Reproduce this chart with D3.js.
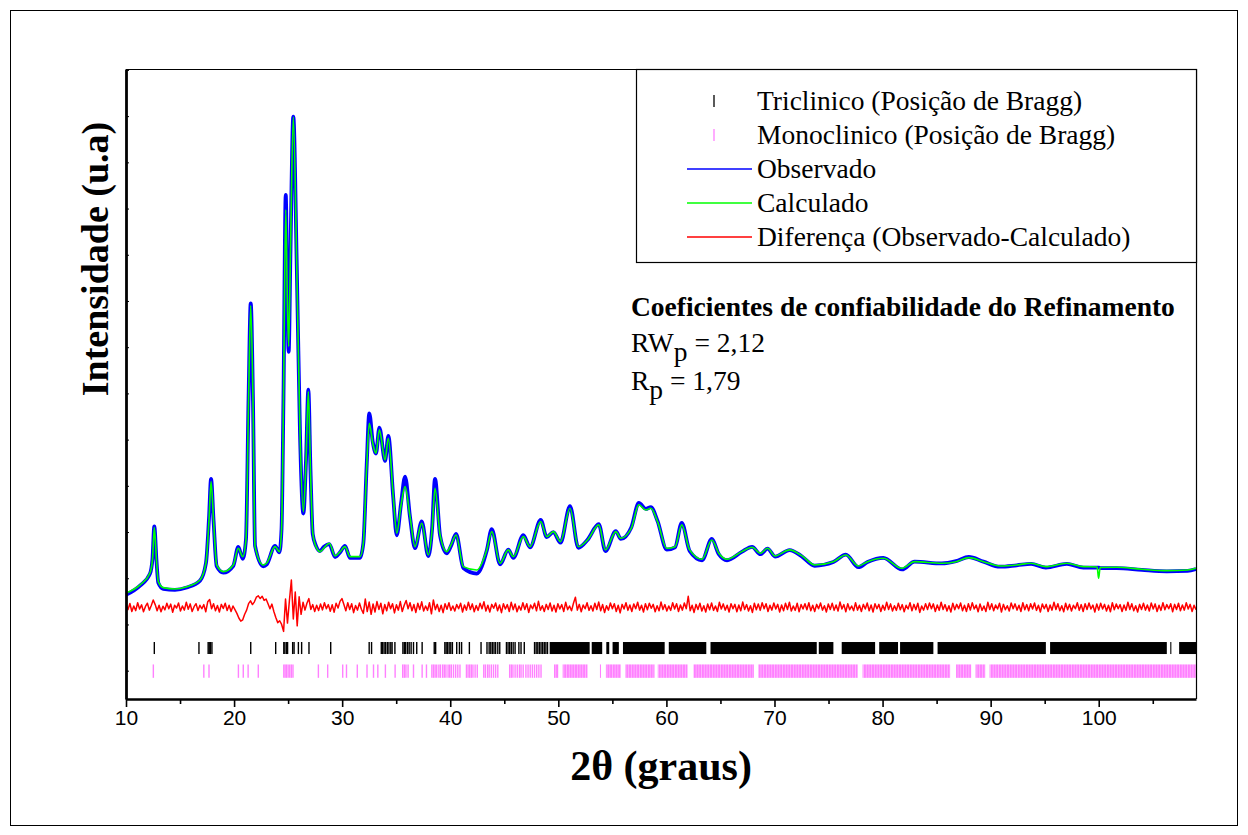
<!DOCTYPE html>
<html><head><meta charset="utf-8">
<script src="https://cdn.jsdelivr.net/npm/d3@7"></script>
<style>body{margin:0;background:#fff}svg{display:block}</style>
</head><body>
<svg id="chart" width="1248" height="835"></svg>
<script>
// ---------------- DATA ----------------
const twoTheta = [10.00,11.30,12.22,12.45,12.62,12.82,12.99,13.45,14.53,15.62,16.85,17.40,17.68,17.87,18.10,18.39,19.00,19.93,20.39,20.80,
21.10,21.34,21.54,21.75,21.94,22.70,23.02,23.79,24.19,24.39,24.57,24.78,24.93,25.05,25.22,25.48,25.80,26.10,26.41,26.66,
26.87,27.07,27.28,27.58,27.95,28.32,28.81,29.34,29.80,30.26,30.73,31.65,31.96,32.27,32.51,32.83,33.13,33.44,33.97,34.27,
34.73,35.05,35.45,35.82,36.28,36.74,37.36,37.97,38.32,38.59,39.06,39.67,40.07,40.54,41.21,42.45,43.38,43.84,44.61,45.37,
45.84,46.76,47.38,48.37,48.93,49.54,50.20,51.08,51.85,52.70,53.74,54.36,55.32,55.78,56.75,57.45,58.10,58.56,59.18,60.03,
60.80,61.42,62.15,63.30,64.20,64.85,65.61,66.97,67.93,68.70,69.36,70.05,71.40,72.55,73.72,75.45,76.60,77.76,78.61,80.07,
81.80,82.97,85.48,86.80,87.98,89.33,90.87,92.42,93.74,95.11,97.05,98.58,99.85,99.99,100.13,101.67,103.99,106.30,108.22,109.00];

const calculated = [1680,1855,2115,2396,3095,2396,1926,1797,1768,1818,1963,2331,3262,4091,3262,2288,2143,2288,2649,2468,
2829,5859,7900,5859,2684,2288,2331,2684,2576,3045,5859,9972,8024,7013,9106,11978,8745,5145,3442,4561,
6039,4344,2981,2684,2576,2656,2758,2483,2569,2684,2468,2468,2758,4416,5355,4922,4706,5210,4561,5030,
3766,2974,3587,3983,3333,2684,3190,2504,3045,3948,2937,2576,2721,2937,2251,2180,2613,3009,2325,2613,
2468,2900,2684,3225,2900,3009,2792,3515,2684,2829,3154,2613,3009,2866,3082,3587,3478,3515,3225,2649,
2684,3154,2613,2411,2829,2541,2411,2576,2671,2541,2649,2483,2613,2483,2288,2359,2504,2266,2359,2433,
2216,2359,2325,2359,2446,2359,2266,2288,2325,2251,2325,2251,2245,2000,2234,2238,2195,2165,2180,2216];

const observed = [1640,1840,2100,2420,3120,2380,1900,1770,1750,1800,1950,2330,3300,4150,3250,2260,2120,2270,2680,2420,
2840,5900,7950,5830,2700,2260,2300,2700,2560,3060,5900,10297,8050,6900,9120,11990,8760,5120,3400,4580,
6080,4330,2950,2700,2590,2680,2740,2460,2560,2700,2440,2440,2760,4450,5570,4950,4700,5260,4540,5080,
3740,2930,3620,4200,3320,2650,3230,2480,3070,4150,2920,2540,2700,2960,2220,2100,2600,3060,2300,2620,
2440,2930,2670,3260,2890,3000,2770,3560,2660,2830,3170,2590,3020,2850,3100,3630,3500,3540,3240,2620,
2670,3200,2590,2390,2850,2520,2390,2570,2680,2520,2640,2470,2610,2470,2270,2350,2510,2240,2350,2440,
2190,2360,2320,2370,2460,2360,2250,2280,2310,2230,2310,2230,2230,2230,2220,2220,2180,2150,2160,2200];

// difference (Observado - Calculado), sampled every 0.18 deg from 10 deg
const diffStart = 10, diffStep = 0.18, diffOffset = 1370;
const difference = [
60,-50,85,-90,30,-70,100,-35,55,-95,20,90,-60,40,160,60,-75,45,-95,25,
-55,90,-30,70,-105,45,-15,95,-80,30,-60,110,-40,75,-90,15,80,-70,45,-30,
60,-95,120,170,-30,80,-75,40,-100,65,-25,90,-70,45,-90,30,-50,-130,-230,-300,
-270,-150,-60,80,140,60,120,220,250,190,240,150,180,80,-30,70,-90,-220,-330,-290,
-370,-520,180,-340,150,590,-250,330,-400,230,-150,110,-60,90,190,-45,60,-90,45,-70,
75,-55,100,-30,60,-85,55,-105,90,-15,130,190,60,-75,100,-45,80,-115,40,-60,
95,-40,-130,180,-90,115,-150,75,-100,125,-45,90,-140,60,-75,110,-30,80,-120,55,
-60,125,-90,45,150,-30,100,-75,60,-110,90,-45,120,-80,30,-65,100,-140,160,-50,
65,-90,45,-115,80,-40,100,-65,30,-80,60,-30,90,-100,50,-60,110,-45,75,-95,
40,-65,90,-30,120,-80,45,-100,65,-20,95,-75,50,-115,80,-35,60,-90,110,-50,
75,-95,30,-60,100,-45,80,-110,50,-30,90,-75,130,-60,35,-90,65,-45,95,-80,
45,-100,80,-35,60,-90,110,-50,30,-75,90,220,-60,65,-95,50,-30,100,-65,35,
-80,90,-45,115,-75,60,-110,35,-60,95,-30,80,-90,45,-120,65,-35,100,-65,50,
-90,75,-30,110,-60,45,-100,80,-50,90,-20,65,-95,35,-75,115,-45,60,-80,30,
-65,100,-35,80,-90,50,-60,95,-30,240,-75,45,-110,65,-45,90,-80,35,-100,75,
-50,95,-65,30,-90,110,-35,75,-60,45,-100,80,-30,65,-95,50,-75,115,-45,60,
-80,35,-110,90,-50,75,-65,100,-30,80,-90,45,-60,95,-35,65,-100,50,-75,90,
-45,110,-80,30,-65,90,-95,60,-35,80,-50,100,-75,45,-90,65,-30,95,-60,35,
-100,75,-45,90,-65,50,-80,115,-35,60,-95,80,-50,30,-75,100,-60,45,-90,65,
-35,95,-75,50,-100,80,-30,65,-90,45,-60,110,-45,75,-80,35,-65,90,-50,60,
-95,45,-35,100,-75,65,-50,90,-110,30,-60,80,-45,95,-30,75,-90,50,-65,110,
-45,60,-80,35,-100,90,-50,65,-30,95,-75,45,-90,80,-60,100,-35,50,-95,75,
-65,30,-90,110,-45,80,-75,50,-35,90,-100,65,-50,35,-80,95,-30,75,-60,45,
-90,100,-50,60,-75,80,-35,95,-65,45,-100,75,-30,65,-90,50,-60,110,-45,80,
-75,35,-95,90,-50,65,-80,45,-30,100,-65,60,-90,80,-45,95,-35,50,-100,75,
-60,90,-35,65,-80,45,-95,100,-50,75,-30,60,-90,50,-65,110,-45,80,-75,35,
-100,65,-45,90,-60,50,-80,95,-35,75,-90,45,-65,100,-50,60,-30,80,-95,65,
-45,90,-75,50,-60,100,-35,65,-90,45,-50];

// Bragg positions (2theta)
const triclinicTicks = [12.62,16.75,17.6,17.7,17.8,17.95,21.54,23.85,24.6,24.7,24.85,24.95,25.42,25.55,25.95,26.25,26.93,28.94,32.5,32.72,
33.62,33.74,33.88,34.02,34.18,34.33,34.5,34.62,34.88,35.62,35.75,35.88,36.05,36.2,36.38,36.6,36.9,37.4,
38.52,38.65,39.5,39.62,39.75,39.9,40.05,40.2,40.6,40.85,41.05,41.77,42.85,43.4,43.6,43.75,43.9,44.05,44.2,44.4,44.58,
45.2,45.35,45.5,45.65,45.82,46.0,46.35,46.55,46.85,47.8,47.95,48.1,48.25,48.4,48.55,48.7,48.85,49.0];
const triclinicRuns = [[49.2,52.9],[53.09,54.06],[54.44,54.71],[55.02,55.6],[55.98,59.84],[60.22,63.69],[64.08,73.91],[74.1,75.45],
[76.22,79.31],[79.69,81.43],[81.62,84.7],[85.09,95.11],[95.5,106.3],[106.62,106.72],[107.44,109]];
const monoclinicTicks = [12.53,17.2,17.68,20.4,20.85,21.3,22.24,24.6,24.72,24.85,25.0,25.15,25.3,25.45,27.8,28.66,30.05,30.4,31.4,32.3,32.9,33.3,34.0,34.9,
35.6,35.75,35.9,36.1,36.6,37.4,37.8,38.3,38.45,38.6,38.75,38.95,39.1,39.3,39.45,39.6,39.8,39.95,40.1,40.3,40.5,40.7,40.9,
41.5,41.65,41.8,41.95,42.1,42.3,42.5,43.1,43.25,43.45,43.6,43.8,44.0,44.2,44.4,
45.5,45.65,45.8,46.0,46.2,46.4,46.55,46.75,47.0,47.2,47.4,47.6,47.8,48.0,48.2,48.4];
const monoclinicRuns = [[49.6,50.0],[50.4,52.7],[53.85,53.95],[54.4,55.8],[56.2,58.9],[59.2,61.96],[62.5,68.1],[68.5,77.7],
[78.15,86.25],[86.8,88.2],[88.6,89.5],[89.9,109]];

const xMajorTicks = [10,20,30,40,50,60,70,80,90,100];
const xMinorTicks = [15,25,35,45,55,65,75,85,95,105];
const yTickValues = [0,1000,2000,3000,4000,5000,6000,7000,8000,9000,10000,11000,12000,13000];
const legendLabels = ["Triclinico (Posição de Bragg)","Monoclinico (Posição de Bragg)","Observado","Calculado","Diferença (Observado-Calculado)"];
const xTitle = "2θ (graus)";
const yTitle = "Intensidade (u.a)";
const refinementTitle = "Coeficientes de confiabilidade do Refinamento";
const rwpValue = "2,12", rpValue = "1,79";

// ---------------- LAYOUT ----------------
const P = {left:126, right:1196, top:69, bottom:699};
const C = {blue:"#0000ff", green:"#00ff00", red:"#ff0000", magenta:"#ff80ff", black:"#000"};
const serif = "'Liberation Serif','Times New Roman',serif";
const sans = "'Liberation Sans',Arial,sans-serif";

const x = d3.scaleLinear().domain([10,109]).range([P.left,P.right]);
const y = d3.scaleLinear().domain([-613,13020]).range([P.bottom,P.top]);

const svg = d3.select("#chart");
svg.append("rect").attr("width",1248).attr("height",835).attr("fill","#fff");
svg.append("rect").attr("x",10.5).attr("y",10.5).attr("width",1227).attr("height",815)
  .attr("fill","none").attr("stroke","#000").attr("stroke-width",1);

const defs = svg.append("defs");
defs.append("clipPath").attr("id","clip").append("rect")
  .attr("x",P.left).attr("y",P.top).attr("width",P.right-P.left).attr("height",P.bottom-P.top);
const pat = defs.append("pattern").attr("id","magStripe").attr("patternUnits","userSpaceOnUse")
  .attr("width",2.7).attr("height",20);
pat.append("rect").attr("width",2.7).attr("height",20).attr("fill","#ffd0ff");
pat.append("rect").attr("width",2.1).attr("height",20).attr("fill",C.magenta);
const g = svg.append("g").attr("clip-path","url(#clip)");

// Bragg rows (in intensity units)
const rowTri = [360,620], rowMono = [-155,135];
function braggRow(ticks, runs, row, color, fill, cls){
  g.selectAll("line."+cls).data(ticks).join("line").attr("class",cls)
    .attr("x1",d=>x(d)).attr("x2",d=>x(d)).attr("y1",y(row[1])).attr("y2",y(row[0]))
    .attr("stroke",color).attr("stroke-width",1.4);
  g.selectAll("rect."+cls).data(runs).join("rect").attr("class",cls)
    .attr("x",d=>x(d[0])).attr("width",d=>Math.max(1,x(d[1])-x(d[0])))
    .attr("y",y(row[1])).attr("height",y(row[0])-y(row[1])).attr("fill",fill);
}
braggRow(triclinicTicks, triclinicRuns, rowTri, C.black, C.black, "tri");
braggRow(monoclinicTicks, monoclinicRuns, rowMono, C.magenta, "url(#magStripe)", "mono");

const line = d3.line().x(d=>x(d[0])).y(d=>y(d[1])).curve(d3.curveMonotoneX);
const obsData = twoTheta.map((t,i)=>[t,observed[i]]);
const calcData = twoTheta.map((t,i)=>[t,calculated[i]]);
const diffData = difference.map((v,i)=>[diffStart+i*diffStep, diffOffset+v]);

g.append("path").datum(diffData).attr("d",d3.line().x(d=>x(d[0])).y(d=>y(d[1])))
  .attr("fill","none").attr("stroke",C.red).attr("stroke-width",1.5).attr("stroke-linejoin","round");
g.append("path").datum(obsData).attr("d",line)
  .attr("fill","none").attr("stroke",C.blue).attr("stroke-width",3.8).attr("stroke-linejoin","round");
g.append("path").datum(calcData).attr("d",line)
  .attr("fill","none").attr("stroke",C.green).attr("stroke-width",1.6).attr("stroke-linejoin","round");

// frame lines (top, right)
svg.append("line").attr("x1",P.left).attr("x2",P.right).attr("y1",P.top+0.5).attr("y2",P.top+0.5).attr("stroke","#000").attr("stroke-width",1.2);
svg.append("line").attr("x1",P.right+0.5).attr("x2",P.right+0.5).attr("y1",P.top).attr("y2",P.bottom).attr("stroke","#000").attr("stroke-width",1.2);

// axes
const xAxisMajor = svg.append("g").attr("transform",`translate(0,${P.bottom})`)
  .call(d3.axisBottom(x).tickValues(xMajorTicks).tickSize(8).tickSizeOuter(0).tickPadding(3).tickFormat(d3.format("d")));
xAxisMajor.select(".domain").attr("stroke-width",2.6);
xAxisMajor.selectAll(".tick line").attr("stroke-width",1.6);
xAxisMajor.selectAll(".tick text").attr("font-family",sans).attr("font-size",21).attr("fill","#000");
const xAxisMinor = svg.append("g").attr("transform",`translate(0,${P.bottom})`)
  .call(d3.axisBottom(x).tickValues(xMinorTicks).tickSize(5).tickSizeOuter(0).tickFormat(""));
xAxisMinor.select(".domain").remove();
xAxisMinor.selectAll(".tick line").attr("stroke-width",1.6);

const yAxis = svg.append("g").attr("transform",`translate(${P.left},0)`)
  .call(d3.axisLeft(y).tickValues(yTickValues).tickSize(-3).tickSizeOuter(0).tickFormat(""));
yAxis.select(".domain").attr("stroke-width",2.8);
yAxis.selectAll(".tick line").attr("stroke-width",1);

// axis titles
svg.append("text").attr("x",(P.left+P.right)/2).attr("y",780).attr("text-anchor","middle")
  .attr("font-family",serif).attr("font-weight","bold").attr("font-size",42).text(xTitle);
svg.append("text").attr("transform","translate(108,259) rotate(-90)").attr("text-anchor","middle")
  .attr("font-family",serif).attr("font-weight","bold").attr("font-size",38).text(yTitle);

// legend
const L = {x0:636, y0:P.top, x1:P.right, y1:262};
svg.append("rect").attr("x",L.x0+0.5).attr("y",L.y0+0.5).attr("width",L.x1-L.x0).attr("height",L.y1-L.y0)
  .attr("fill","#fff").attr("stroke","#000").attr("stroke-width",1.2);
const rowsY = [101,135,169,203,237];
const legendKinds = [
  {type:"tick",color:C.black},{type:"tick",color:C.magenta},
  {type:"line",color:C.blue},{type:"line",color:C.green},{type:"line",color:C.red}];
const lg = svg.append("g");
legendKinds.forEach((k,i)=>{
  const cy = rowsY[i];
  if(k.type==="tick"){
    lg.append("line").attr("x1",714).attr("x2",714).attr("y1",cy-6).attr("y2",cy+6).attr("stroke",k.color).attr("stroke-width",1.3);
  } else {
    lg.append("line").attr("x1",687).attr("x2",752).attr("y1",cy).attr("y2",cy).attr("stroke",k.color).attr("stroke-width",1.3);
  }
  lg.append("text").attr("x",757).attr("y",cy+9).attr("font-family",serif).attr("font-size",27.5).attr("fill","#000").text(legendLabels[i]);
});

// annotation
const ann = svg.append("g").attr("font-family",serif).attr("font-size",27.5).attr("fill","#000");
ann.append("text").attr("x",631).attr("y",316).attr("font-weight","bold").text(refinementTitle);
const t1 = ann.append("text").attr("x",631).attr("y",352);
t1.append("tspan").text("RW");
t1.append("tspan").attr("dy",9).text("p");
t1.append("tspan").attr("dy",-9).text(" = "+rwpValue);
const t2 = ann.append("text").attr("x",631).attr("y",390);
t2.append("tspan").text("R");
t2.append("tspan").attr("dy",9).text("p");
t2.append("tspan").attr("dy",-9).text(" = "+rpValue);
</script>
</body></html>
